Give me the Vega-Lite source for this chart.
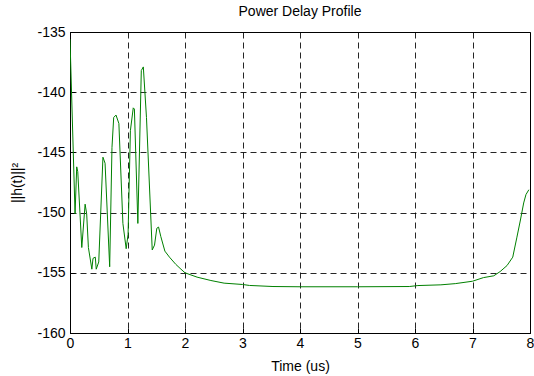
{
  "$schema": "https://vega.github.io/schema/vega-lite/v6.json",
  "width": 460,
  "height": 301,
  "autosize": {"type": "none"},
  "padding": {"left": 70, "top": 32, "right": 4, "bottom": 43},
  "background": "white",
  "config": {
    "font": "Liberation Sans",
    "view": {"stroke": "black", "strokeWidth": 1},
    "axis": {
      "domainColor": "black",
      "tickColor": "black",
      "tickSize": -5,
      "labelColor": "black",
      "titleColor": "black",
      "labelFontSize": 14,
      "titleFontSize": 14,
      "titleFontWeight": "normal",
      "labelFont": "Liberation Sans",
      "titleFont": "Liberation Sans",
      "gridColor": "black",
      "gridOpacity": 0.85,
      "gridDash": [6, 4],
      "gridWidth": 1
    }
  },
  "title": {
    "text": "Power Delay Profile",
    "fontSize": 14,
    "fontWeight": "normal",
    "font": "Liberation Sans",
    "color": "black",
    "offset": 6
  },
  "data": {
    "values": [
      {"t": 0.0, "p": -135.6},
      {"t": 0.088, "p": -150.1},
      {"t": 0.117, "p": -146.2},
      {"t": 0.135, "p": -146.6},
      {"t": 0.205, "p": -152.9},
      {"t": 0.263, "p": -149.3},
      {"t": 0.29, "p": -150.1},
      {"t": 0.32, "p": -152.9},
      {"t": 0.38, "p": -154.7},
      {"t": 0.4, "p": -153.8},
      {"t": 0.44, "p": -153.7},
      {"t": 0.456, "p": -154.7},
      {"t": 0.5, "p": -154.1},
      {"t": 0.573, "p": -145.4},
      {"t": 0.61, "p": -145.9},
      {"t": 0.69, "p": -154.5},
      {"t": 0.73, "p": -144.6},
      {"t": 0.76, "p": -142.1},
      {"t": 0.8, "p": -141.9},
      {"t": 0.85, "p": -142.6},
      {"t": 0.92, "p": -150.9},
      {"t": 0.977, "p": -153.0},
      {"t": 1.01, "p": -151.8},
      {"t": 1.05, "p": -143.2},
      {"t": 1.1, "p": -141.3},
      {"t": 1.12, "p": -141.4},
      {"t": 1.18, "p": -150.9},
      {"t": 1.24, "p": -138.2},
      {"t": 1.275, "p": -137.9},
      {"t": 1.33, "p": -142.1},
      {"t": 1.43, "p": -153.1},
      {"t": 1.47, "p": -152.7},
      {"t": 1.51, "p": -151.3},
      {"t": 1.54, "p": -151.2},
      {"t": 1.58, "p": -152.0},
      {"t": 1.65, "p": -153.2},
      {"t": 1.73, "p": -153.7},
      {"t": 1.84, "p": -154.3},
      {"t": 1.93, "p": -154.7},
      {"t": 2.0, "p": -155.0},
      {"t": 2.21, "p": -155.36},
      {"t": 2.45, "p": -155.64},
      {"t": 2.68, "p": -155.86},
      {"t": 3.0, "p": -155.97},
      {"t": 3.12, "p": -156.05},
      {"t": 3.53, "p": -156.14},
      {"t": 4.0, "p": -156.16},
      {"t": 5.0, "p": -156.16},
      {"t": 5.9, "p": -156.14},
      {"t": 6.05, "p": -156.06},
      {"t": 6.45, "p": -156.0},
      {"t": 6.7, "p": -155.9},
      {"t": 7.0, "p": -155.7},
      {"t": 7.19, "p": -155.4},
      {"t": 7.37, "p": -155.25},
      {"t": 7.48, "p": -154.9},
      {"t": 7.6, "p": -154.4},
      {"t": 7.7, "p": -153.7},
      {"t": 7.77, "p": -152.1},
      {"t": 7.83, "p": -150.7},
      {"t": 7.89, "p": -149.2},
      {"t": 7.93, "p": -148.5},
      {"t": 7.98, "p": -148.1}
    ]
  },
  "mark": {"type": "line", "color": "#008000", "strokeWidth": 1, "clip": true},
  "encoding": {
    "x": {
      "field": "t",
      "type": "quantitative",
      "scale": {"domain": [0, 8], "nice": false, "zero": false},
      "axis": {
        "title": "Time (us)",
        "values": [0, 1, 2, 3, 4, 5, 6, 7, 8],
        "labelExpr": "toString(datum.value)",
        "labelPadding": 8,
        "titlePadding": 9,
        "labelFlush": false
      }
    },
    "y": {
      "field": "p",
      "type": "quantitative",
      "scale": {"domain": [-160, -135], "nice": false, "zero": false},
      "axis": {
        "title": "||h(t)||²",
        "values": [-160, -155, -150, -145, -140, -135],
        "labelExpr": "toString(datum.value)",
        "labelPadding": 10,
        "titlePadding": 12,
        "labelFlush": false
      }
    }
  }
}
